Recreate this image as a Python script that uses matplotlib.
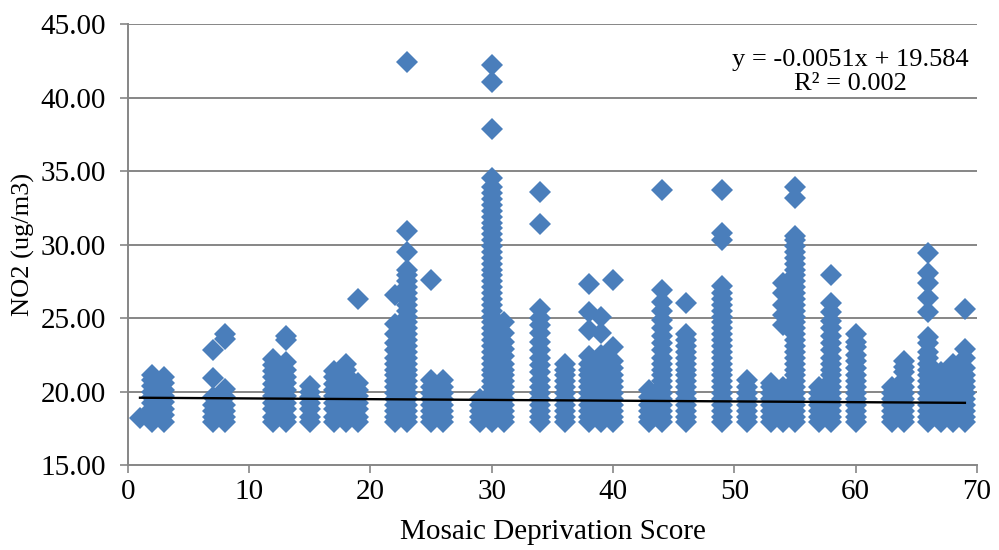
import matplotlib
matplotlib.use("Agg")
import matplotlib.pyplot as plt

# NO2 readings grouped by Mosaic deprivation score
no2_s01 = [18.2]
no2_s02 = [17.9, 18.3, 18.8, 19.2, 19.6, 20.0, 20.4, 20.8, 21.1]
no2_s03 = [17.9, 18.4, 18.8, 19.3, 19.7, 20.1, 20.6, 21.0]
no2_s07 = [17.9, 18.3, 18.7, 19.1, 19.6, 20.9, 22.8]
no2_s08 = [17.9, 18.3, 18.7, 19.1, 19.6, 20.2, 23.6, 23.9]
no2_s12 = [17.9, 18.3, 18.8, 19.2, 19.7, 20.1, 20.5, 21.0, 21.4, 21.8, 22.2]
no2_s13 = [17.9, 18.3, 18.8, 19.2, 19.7, 20.1, 20.6, 21.0, 21.5, 22.0, 23.5, 23.8]
no2_s15 = [17.9, 18.3, 18.8, 19.2, 19.6, 20.0, 20.4]
no2_s17 = [17.9, 18.3, 18.8, 19.2, 19.7, 20.1, 20.5, 21.0, 21.4]
no2_s18 = [17.9, 18.4, 18.8, 19.3, 19.7, 20.2, 20.6, 21.1, 21.5, 21.9]
no2_s19 = [17.9, 18.3, 18.8, 19.2, 19.7, 20.1, 20.6, 26.3]
no2_s22 = [17.9, 18.3, 18.7, 19.1, 19.5, 19.9, 20.3, 20.7, 21.1, 21.5, 21.9,
           22.3, 22.8, 23.3, 23.9, 24.6, 26.6]
no2_s23 = [17.9, 18.3, 18.7, 19.1, 19.5, 19.9, 20.3, 20.7, 21.1, 21.5, 21.9,
           22.3, 22.7, 23.1, 23.5, 23.9, 24.3, 24.7, 25.1, 25.5, 25.9, 26.3,
           26.7, 27.1, 27.5, 27.9, 28.3, 29.5, 30.9, 42.4]
no2_s25 = [17.9, 18.3, 18.7, 19.1, 19.5, 19.9, 20.3, 20.8, 27.6]
no2_s26 = [17.9, 18.3, 18.7, 19.1, 19.5, 19.9, 20.3, 20.8]
no2_s29 = [17.9, 18.3, 18.7, 19.1, 19.5]
no2_s30 = [17.9, 18.3, 18.7, 19.1, 19.5, 19.9, 20.3, 20.7, 21.1, 21.5, 21.9,
           22.3, 22.7, 23.1, 23.5, 23.9, 24.3, 24.7, 25.1, 25.5, 25.9, 26.3,
           26.7, 27.1, 27.5, 27.9, 28.3, 28.7, 29.1, 29.5, 29.9, 30.3, 30.7,
           31.1, 31.5, 31.9, 32.3, 32.7, 33.1, 33.5, 33.9, 34.5, 37.9, 41.1,
           42.2]
no2_s31 = [17.9, 18.3, 18.7, 19.1, 19.5, 19.9, 20.3, 20.7, 21.1, 21.5, 21.9,
           22.4, 22.9, 23.4, 24.0, 24.7]
no2_s34 = [17.9, 18.3, 18.7, 19.1, 19.5, 19.9, 20.3, 20.8, 21.3, 21.8, 22.3,
           22.8, 23.4, 24.0, 24.5, 25.0, 25.6, 31.4, 33.6]
no2_s36 = [17.9, 18.3, 18.7, 19.1, 19.5, 19.9, 20.3, 20.7, 21.1, 21.5, 21.9]
no2_s38 = [17.9, 18.3, 18.7, 19.1, 19.5, 19.9, 20.3, 20.7, 21.1, 21.5, 21.9,
           22.4, 24.2, 25.4, 27.3]
no2_s39 = [17.9, 18.3, 18.7, 19.1, 19.5, 19.9, 20.3, 20.7, 21.1, 21.5, 21.9,
           22.5, 24.0, 25.1]
no2_s40 = [17.9, 18.3, 18.7, 19.1, 19.5, 19.9, 20.3, 20.7, 21.1, 21.6, 22.1,
           23.0, 27.6]
no2_s43 = [17.9, 18.3, 18.7, 19.1, 19.6, 20.1]
no2_s44 = [17.9, 18.3, 18.7, 19.1, 19.5, 19.9, 20.3, 20.7, 21.1, 21.5, 21.9,
           22.3, 22.8, 23.3, 23.8, 24.3, 24.9, 25.5, 26.1, 26.9, 33.7]
no2_s46 = [17.9, 18.3, 18.7, 19.1, 19.5, 19.9, 20.3, 20.7, 21.1, 21.5, 21.9,
           22.3, 22.7, 23.1, 23.5, 23.9, 26.0]
no2_s49 = [17.9, 18.3, 18.7, 19.1, 19.5, 19.9, 20.3, 20.7, 21.1, 21.5, 21.9,
           22.3, 22.7, 23.1, 23.5, 23.9, 24.3, 24.7, 25.1, 25.5, 25.9, 26.3,
           26.7, 27.2, 30.3, 30.8, 33.7]
no2_s51 = [17.9, 18.3, 18.7, 19.1, 19.5, 19.9, 20.3, 20.8]
no2_s53 = [17.9, 18.3, 18.7, 19.1, 19.5, 19.9, 20.3, 20.6]
no2_s54 = [17.9, 18.3, 18.7, 19.1, 19.5, 19.9, 20.3, 24.5, 25.2, 25.9, 26.7,
           27.4]
no2_s55 = [17.9, 18.3, 18.7, 19.1, 19.5, 19.9, 20.3, 20.7, 21.1, 21.5, 21.9,
           22.3, 22.7, 23.1, 23.5, 23.9, 24.3, 24.7, 25.1, 25.5, 25.9, 26.3,
           26.7, 27.1, 27.5, 27.9, 28.3, 28.7, 29.1, 29.5, 29.9, 30.3, 30.6,
           33.2, 33.9]
no2_s57 = [17.9, 18.3, 18.7, 19.1, 19.5, 19.9, 20.3]
no2_s58 = [17.9, 18.3, 18.7, 19.1, 19.5, 19.9, 20.3, 20.7, 21.1, 21.5, 21.9,
           22.3, 22.8, 23.3, 23.8, 24.3, 24.8, 25.4, 26.0, 27.9]
no2_s60 = [17.9, 18.3, 18.7, 19.1, 19.5, 19.9, 20.3, 20.7, 21.1, 21.6, 22.1,
           22.5, 23.0, 23.4, 23.9]
no2_s63 = [17.9, 18.3, 18.7, 19.1, 19.5, 19.9, 20.3]
no2_s64 = [17.9, 18.3, 18.7, 19.1, 19.5, 19.9, 20.3, 20.8, 21.3, 21.7, 22.1]
no2_s66 = [17.9, 18.3, 18.7, 19.1, 19.5, 19.9, 20.3, 20.7, 21.1, 21.5, 21.9,
           22.3, 22.7, 23.3, 23.7, 25.4, 26.4, 27.4, 28.1, 29.4]
no2_s67 = [17.9, 18.3, 18.7, 19.1, 19.5, 19.9, 20.3, 20.8, 21.3]
no2_s68 = [17.9, 18.3, 18.7, 19.1, 19.5, 19.9, 20.3, 20.8, 21.3, 21.9]
no2_s69 = [17.9, 18.3, 18.7, 19.1, 19.5, 19.9, 20.3, 20.7, 21.1, 21.6, 22.3,
           22.9, 25.6]

scores = [1, 2, 3, 7, 8, 12, 13, 15, 17, 18, 19, 22, 23, 25, 26, 29, 30, 31,
          34, 36, 38, 39, 40, 43, 44, 46, 49, 51, 53, 54, 55, 57, 58, 60, 63,
          64, 66, 67, 68, 69]
no2_columns = [no2_s01, no2_s02, no2_s03, no2_s07, no2_s08, no2_s12, no2_s13,
               no2_s15, no2_s17, no2_s18, no2_s19, no2_s22, no2_s23, no2_s25,
               no2_s26, no2_s29, no2_s30, no2_s31, no2_s34, no2_s36, no2_s38,
               no2_s39, no2_s40, no2_s43, no2_s44, no2_s46, no2_s49, no2_s51,
               no2_s53, no2_s54, no2_s55, no2_s57, no2_s58, no2_s60, no2_s63,
               no2_s64, no2_s66, no2_s67, no2_s68, no2_s69]

# Linear trend line
slope = -0.0051
intercept = 19.584
r_squared = 0.002

x_ticks = [0, 10, 20, 30, 40, 50, 60, 70]
y_ticks = [15, 20, 25, 30, 35, 40, 45]

plt.rcParams["font.family"] = ["Liberation Serif", "DejaVu Serif"]

fig = plt.figure(figsize=(9.99, 5.5), dpi=100)
ax = fig.add_axes([0.128, 0.1545, 0.85, 0.8015])

grid_color = "#868686"
for yv in y_ticks[1:]:
    ax.axhline(yv, color=grid_color, lw=1.4, zorder=1)

xs, ys = [], []
for s, col in zip(scores, no2_columns):
    xs.extend([s] * len(col))
    ys.extend(col)
ax.plot(xs, ys, linestyle="none", marker="D", markersize=11.5,
        markerfacecolor="#4A7EBB", markeredgewidth=0, zorder=3, clip_on=False)

x0, x1 = min(scores), max(scores)
ax.plot([x0, x1], [slope * x0 + intercept, slope * x1 + intercept],
        color="black", lw=1.7, zorder=4)

ax.set_xlim(0, 70)
ax.set_ylim(15, 45)
ax.set_xticks(x_ticks)
ax.set_yticks(y_ticks)
ax.set_yticklabels([f"{v:.2f}" for v in y_ticks])

for side in ("top", "right"):
    ax.spines[side].set_visible(False)
for side in ("left", "bottom"):
    ax.spines[side].set_color(grid_color)
    ax.spines[side].set_linewidth(1.4)

ax.tick_params(axis="both", direction="out", length=6, width=1.2,
               color=grid_color, labelsize=21)
ax.tick_params(axis="x", pad=4)
ax.tick_params(axis="y", pad=10)

ax.set_xlabel("Mosaic Deprivation Score", fontsize=21, labelpad=10)
ax.set_ylabel("NO2 (ug/m3)", fontsize=19, labelpad=4)

ax.text(0.851, 0.891, f"y = {slope}x + {intercept}\nR\u00b2 = {r_squared}",
        transform=ax.transAxes, ha="center", va="center", fontsize=19,
        linespacing=1.1)

fig.savefig("out.png", dpi=100)
